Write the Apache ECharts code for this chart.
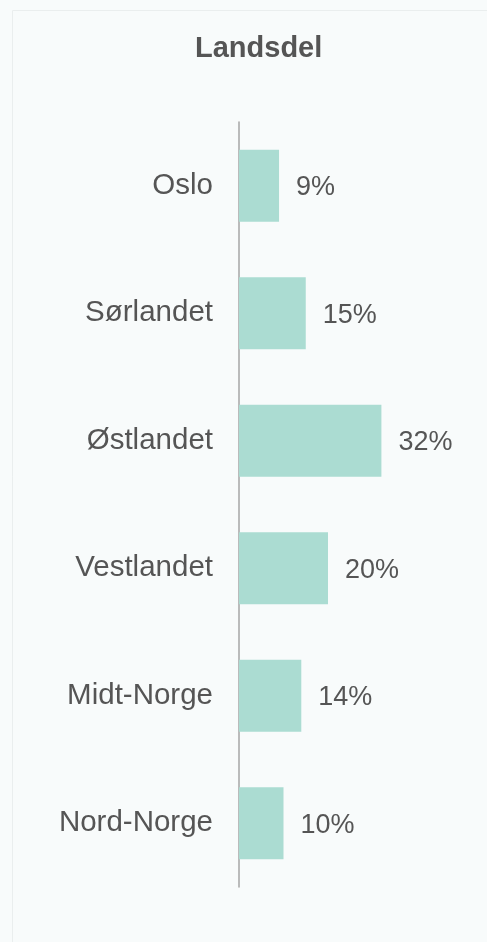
<!DOCTYPE html>
<html>
<head>
<meta charset="utf-8">
<script src="https://cdn.jsdelivr.net/npm/echarts@6/dist/echarts.min.js"></script>
<style>
  html, body { margin: 0; padding: 0; background: #f8fbfb; }
  #main { width: 487px; height: 942px; }
</style>
</head>
<body>
<div id="main"></div>
<script>
  // data
  const regions = ['Oslo', 'Sørlandet', 'Østlandet', 'Vestlandet', 'Midt-Norge', 'Nord-Norge']
  const shares = [9, 15, 32, 20, 14, 10]

  const myChart = echarts.init(document.getElementById('main'))

  const option = {
    backgroundColor: '#f8fbfb',
    animation: false,
    textStyle: { fontFamily: 'Liberation Sans, Arial, sans-serif' },
    title: {
      text: 'Landsdel',
      left: 190,
      top: 29,
      textStyle: { fontSize: 29, fontWeight: 'bold', color: '#555555' }
    },
    graphic: [{
      type: 'rect',
      shape: { x: 12.5, y: 10.5, width: 500, height: 960 },
      style: { fill: 'none', stroke: '#eaeeee', lineWidth: 1 },
      silent: true
    }],
    grid: { left: 239, top: 122, bottom: 55, right: 70, containLabel: false },
    xAxis: {
      type: 'value',
      min: 0,
      max: 40,
      show: false
    },
    yAxis: {
      type: 'category',
      data: regions,
      inverse: true,
      axisLine: { show: true, lineStyle: { color: '#a6a6a6', width: 1.5 } },
      axisTick: { show: false },
      axisLabel: { fontSize: 29.5, color: '#555555', margin: 26 }
    },
    series: [{
      type: 'bar',
      data: shares,
      barWidth: 72,
      itemStyle: { color: '#abdcd2' },
      label: {
        show: true,
        position: 'right',
        distance: 17,
        fontSize: 27,
        color: '#555555',
        offset: [0, 2],
        formatter: p => p.value + '%'
      }
    }]
  }

  myChart.setOption(option)
</script>
</body>
</html>
